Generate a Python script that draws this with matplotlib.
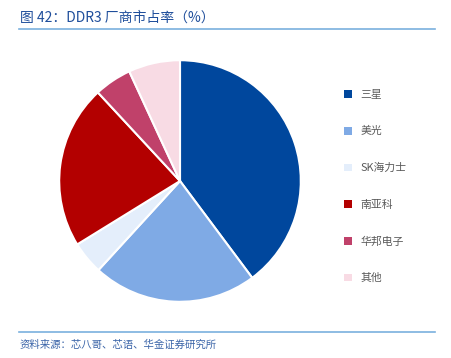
import matplotlib
matplotlib.use("Agg")
from matplotlib import pyplot as plt
from matplotlib.lines import Line2D

plt.rcParams['font.family'] = ['Noto Sans CJK SC', 'DejaVu Sans']

# 厂商与市占率 (%)
labels = ['三星', '美光', 'SK海力士', '南亚科', '华邦电子', '其他']
shares = [39.8, 22.0, 4.4, 21.9, 5.0, 6.9]
colors = ['#00479D', '#7FAAE5', '#E4EEFB', '#B30000', '#C0416A', '#F8DBE4']

title = '图 42：DDR3 厂商市占率（%）'
source = '资料来源：芯八哥、芯语、华金证券研究所'

W, H = 451, 358
fig = plt.figure(figsize=(W / 100, H / 100), dpi=100)

# pie: centre (180, 181) px, radius 122 px
cx, cy, r = 180, 181, 122
ax = fig.add_axes([(cx - r) / W, (H - cy - r) / H, 2 * r / W, 2 * r / H])
wedges, _ = ax.pie(shares, colors=colors, startangle=90, counterclock=False,
                   wedgeprops=dict(edgecolor='white', linewidth=1.5))
ax.set_xlim(-1.01, 1.01)
ax.set_ylim(-1.01, 1.01)
ax.set_aspect('equal')
ax.axis('off')

# legend
leg = fig.legend(wedges, labels, loc='upper left', bbox_to_anchor=(334 / W, 1 - 80 / H),
                 frameon=False, fontsize=7.8, handlelength=0.75, handleheight=0.75,
                 handletextpad=0.8, labelspacing=2.45)
for t in leg.get_texts():
    t.set_color('#595959')
for h in leg.legend_handles:
    h.set_linewidth(0)

# header / footer
fig.text(20 / W, 1 - 18 / H, title, fontsize=10, color='#1F4E9B', va='center', ha='left')
fig.add_artist(Line2D([19 / W, 435 / W], [1 - 29 / H, 1 - 29 / H], color='#7AB0DE', lw=1.2))
fig.add_artist(Line2D([19 / W, 435 / W], [1 - 332 / H, 1 - 332 / H], color='#7AB0DE', lw=1.2))
fig.text(20 / W, 1 - 345 / H, source, fontsize=7.5, color='#3A64A8', va='center', ha='left',
         style='italic')

fig.savefig('out.png', dpi=100)
